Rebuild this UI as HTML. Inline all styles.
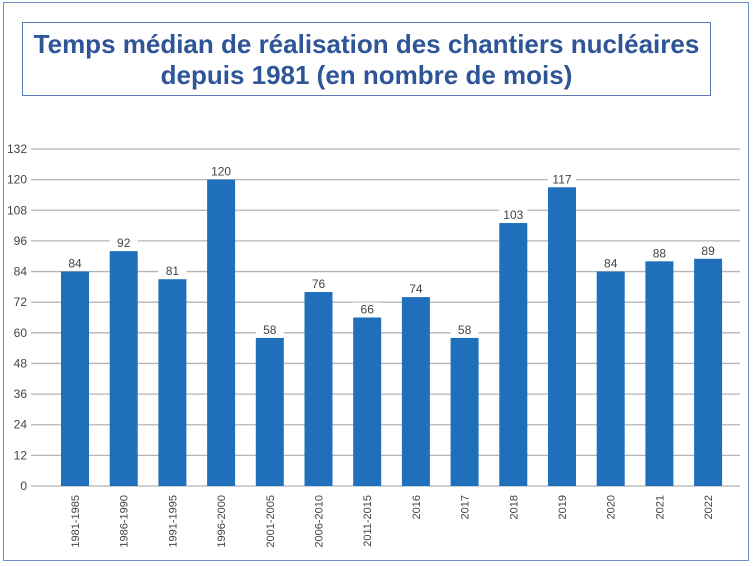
<!DOCTYPE html>
<html><head><meta charset="utf-8"><style>
body{margin:0;background:#fff;}
#wrap{position:relative;width:754px;height:566px;overflow:hidden;}
#frame{position:absolute;left:3px;top:2px;width:746px;height:559px;border:1.5px solid #6f8fc9;box-sizing:border-box;}
#title{position:absolute;left:22px;top:22px;width:689px;height:74px;border:1px solid #5a7ab8;box-sizing:border-box;text-align:center;font:bold 26px "Liberation Sans",sans-serif;color:#2e5597;line-height:31px;padding-top:6px;}
svg{position:absolute;left:0;top:0;}
</style></head><body>
<div id="wrap">
<div id="frame"></div>
<div id="title">Temps médian de réalisation des chantiers nucléaires<br>depuis 1981 (en nombre de mois)</div>
<svg id="chart" width="754" height="566"></svg>
</div>
<script>
const categories=["1981-1985","1986-1990","1991-1995","1996-2000","2001-2005","2006-2010","2011-2015","2016","2017","2018","2019","2020","2021","2022"];
const values=[84,92,81,120,58,76,66,74,58,103,117,84,88,89];
const yTicks=[0,12,24,36,48,60,72,84,96,108,120,132];
const svg=document.getElementById('chart');
const NS='http://www.w3.org/2000/svg';
const y0=486,y1=149,yMax=132;
const y=v=>y0-(v/yMax)*(y0-y1);
const x=i=>75+i*48.7;
function mk(t,a){const e=document.createElementNS(NS,t);for(const k in a)e.setAttribute(k,a[k]);svg.appendChild(e);return e;}
yTicks.forEach(t=>{
 const l=mk('line',{x1:31,x2:740,y1:y(t),y2:y(t),stroke:'#b5b5b5','stroke-width':1.3});
 
 
 const tx=mk('text',{x:27,y:y(t)+4,'text-anchor':'end','font-family':'Liberation Sans, sans-serif','font-size':12,fill:'#444'});
 tx.textContent=t;
 
 
});
categories.forEach((c,i)=>{
 const v=values[i];
 const r=mk('rect',{x:x(i)-14,y:y(v),width:28,height:y0-y(v),fill:'#1f6fba'});
 
 
 const bg=mk('rect',{x:x(i)-14,y:y(v)-15,width:28,height:13,fill:'#fff'});
 
 
 const t=mk('text',{x:x(i),y:y(v)-4,'text-anchor':'middle','font-family':'Liberation Sans, sans-serif','font-size':12,fill:'#444'});
 t.textContent=v;
 
 
 const lb=mk('text',{transform:`translate(${x(i)+4},495) rotate(-90)`,'text-anchor':'end','font-family':'Liberation Sans, sans-serif','font-size':11,fill:'#444'});
 lb.textContent=c;
 
 
});
</script>
</body></html>
